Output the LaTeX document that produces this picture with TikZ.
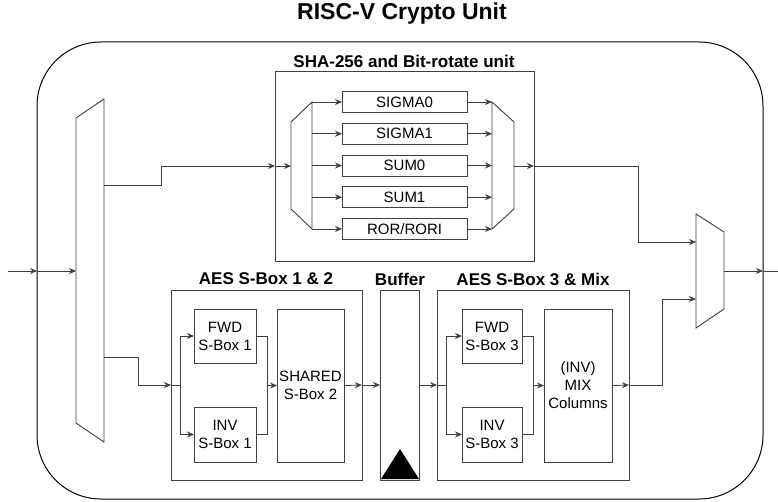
\documentclass[tikz,border=0pt]{standalone}
\usepackage{fontspec}
\setmainfont{Liberation Sans}
\usetikzlibrary{positioning,arrows.meta}

\begin{document}
\begin{tikzpicture}[x=1pt,y=-1pt,>={Stealth[length=7pt,width=6pt]},
  wire/.style={draw=black!75,line width=0.9pt},
  grp/.style={draw=black!75,line width=0.9pt,outer sep=0pt},
  blk/.style={grp,align=center,inner sep=0pt,font=\fontsize{15}{18}\selectfont},
  ttl/.style={font=\fontsize{17}{20}\selectfont\bfseries}]
\useasboundingbox (0,0) rectangle (778,502);
\node[draw,line width=1pt,outer sep=0pt,rounded corners=64pt,minimum width=726pt,minimum height=457pt] (unit) at (400,270.5) {};
\node[font=\fontsize{23}{27}\selectfont\bfseries] (title) at (402,14) {RISC-V Crypto Unit};
% SHA-256 part
\node[grp,minimum width=259pt,minimum height=190pt] (sha) at (404.5,166) {};
\node[ttl] (shattl) at (404,61) {SHA-256 and Bit-rotate unit};
\foreach \lab [count=\i from 0] in {SIGMA0,SIGMA1,SUM0,SUM1,{ROR/RORI}}
  \node[blk,minimum width=125pt,minimum height=21pt] (f\i) at (404.5,{102+31.75*\i}) {\lab};
\draw[grp] (291,122) -- (312,102) -- (312,229) -- (291,209) -- cycle;
\draw[grp] (492,102) -- (514,122) -- (514,209) -- (492,229) -- cycle;
\coordinate (smuxin) at (291,166);
\coordinate (smuxout) at (312,166);
\coordinate (rmuxin) at (492,166);
\coordinate (rmuxout) at (514,166);
% muxes
\draw[grp] (76,118) -- (104,99) -- (104,442) -- (76,423) -- cycle;
\draw[grp] (696,214) -- (724,232) -- (724,309) -- (696,328) -- cycle;
\coordinate (dmuxin) at (76,271);
\coordinate (dmuxa) at (104,185);
\coordinate (dmuxb) at (104,357);
\coordinate (omuxa) at (696,242);
\coordinate (omuxb) at (696,299);
\coordinate (omuxout) at (724,271);
\coordinate (in) at (8,271);
\coordinate (out) at (778,271);
% AES part
\node[grp,minimum width=191pt,minimum height=190pt] (aes1) at (266.5,385) {};
\node[ttl] (aes1ttl) at (266,279) {AES S-Box 1 \& 2};
\node[blk,minimum width=62pt,minimum height=54pt] (fwd1) at (225,336) {FWD\\S-Box 1};
\node[blk,minimum width=62pt,minimum height=55pt] (inv1) at (225,434.5) {INV\\S-Box 1};
\node[blk,minimum width=67pt,minimum height=153pt] (shared) at (310.5,385.5) {SHARED\\S-Box 2};
\node[grp,minimum width=39pt,minimum height=190pt] (buf) at (399.5,385) {};
\node[ttl] (bufttl) at (400,279) {Buffer};
\fill (381,479) -- (400,449) -- (419,479) -- cycle;
\node[grp,minimum width=192pt,minimum height=190pt] (aes2) at (533,385) {};
\node[ttl] (aes2ttl) at (533,279) {AES S-Box 3 \& Mix};
\node[blk,minimum width=60pt,minimum height=54pt] (fwd3) at (492,336) {FWD\\S-Box 3};
\node[blk,minimum width=60pt,minimum height=55pt] (inv3) at (492,434.5) {INV\\S-Box 3};
\node[blk,minimum width=68pt,minimum height=153pt] (mix) at (578,385.5) {(INV)\\MIX\\Columns};
% wires
\draw[wire,->] (in) -- (in -| unit.west);
\draw[wire,->] (in -| unit.west) -- (dmuxin);
\draw[wire,->] (dmuxa) -- ++(57,0) |- (sha.west);
\draw[wire,->] (sha.west) -- (smuxin);
\foreach \i in {0,...,4} {
  \draw[wire,->] (f\i.west -| smuxout) -- (f\i.west);
  \draw[wire,->] (f\i.east) -- (f\i.east -| rmuxin);
}
\draw[wire,->] (rmuxout) -- (sha.east);
\draw[wire,->] (sha.east) -- ++(104,0) |- (omuxa);
\draw[wire,->] (dmuxb) -- ++(34,0) |- (aes1.west);
\draw[wire,->] (aes1.west) -- ++(9,0) |- (fwd1.west);
\draw[wire,->] (aes1.west) -- ++(9,0) |- (inv1.west);
\draw[wire] (fwd1.east) -- ++(11,0) |- (inv1.east);
\draw[wire,->] ([xshift=-10pt]shared.west) -- (shared.west);
\draw[wire,->] (shared.east) -- (aes1.east);
\draw[wire,->] (aes1.east) -- (buf.west);
\draw[wire,->] (buf.east) -- (aes2.west);
\draw[wire,->] (aes2.west) -- ++(9,0) |- (fwd3.west);
\draw[wire,->] (aes2.west) -- ++(9,0) |- (inv3.west);
\draw[wire] (fwd3.east) -- ++(11,0) |- (inv3.east);
\draw[wire,->] ([xshift=-11pt]mix.west) -- (mix.west);
\draw[wire,->] (mix.east) -- (aes2.east);
\draw[wire,->] (aes2.east) -- ++(33,0) |- (omuxb);
\draw[wire,->] (omuxout) -- (omuxout -| unit.east);
\draw[wire] (omuxout -| unit.east) -- (out);
\end{tikzpicture}
\end{document}
